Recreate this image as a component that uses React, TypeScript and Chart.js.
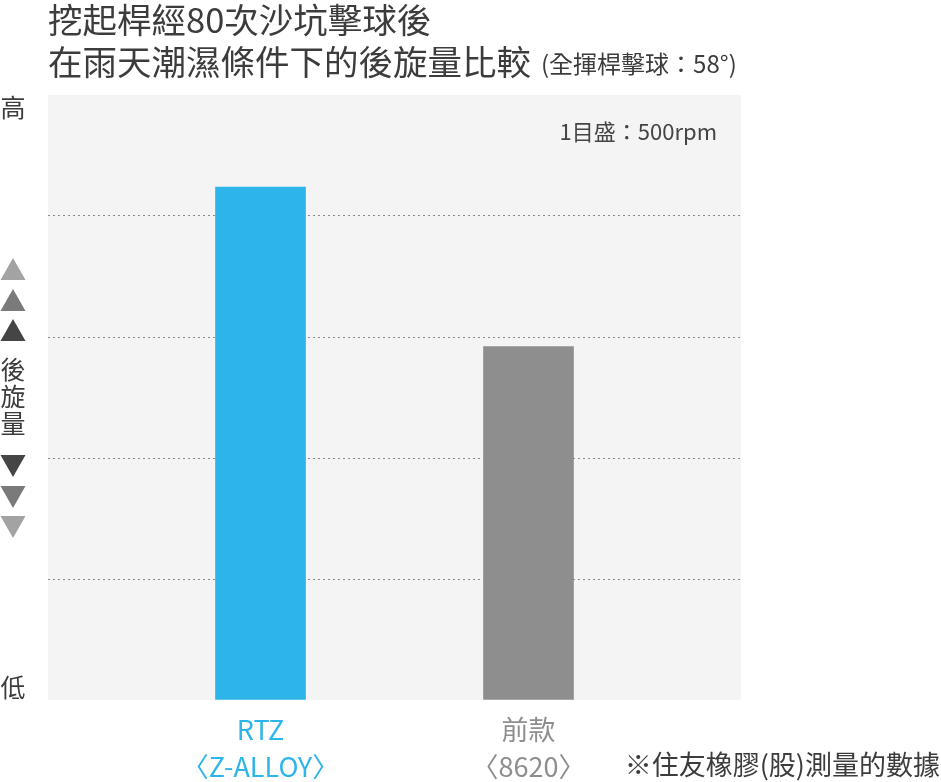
import React, { useEffect, useRef } from "react";
import { Chart, registerables } from "chart.js";

Chart.register(...registerables);

const titleLine1 = "挖起桿經80次沙坑擊球後";
const titleLine2 = "在雨天潮濕條件下的後旋量比較";
const titleNote = "(全揮桿擊球：58°)";
const scaleNote = "1目盛：500rpm";
const sourceNote = "※住友橡膠(股)測量的數據";
const axisHigh = "高";
const axisLow = "低";
const axisName = ["後", "旋", "量"];

const categoryLines = [["RTZ", "〈Z-ALLOY〉"], ["前款", "〈8620〉"]];
const categoryPositions = [1, 2];
const spinValues = [2120, 1460];
const barColors = ["#2db5ea", "#8e8e8e"];
const yMin = 0;
const yMax = 2500;
const yStep = 500;

const FONT = '"Noto Sans CJK TC", "Noto Sans", sans-serif';

const decorPlugin = {
  id: "decor",
  beforeDraw(chart: any) {
    const { ctx, chartArea } = chart;
    ctx.save();
    ctx.fillStyle = "#f4f4f4";
    ctx.fillRect(chartArea.left, chartArea.top, chartArea.right - chartArea.left, chartArea.bottom - chartArea.top);
    ctx.restore();
  },
  afterDraw(chart: any) {
    const { ctx, chartArea, scales } = chart;
    ctx.save();
    ctx.textBaseline = "alphabetic";
    // title
    ctx.fillStyle = "#3c3c3c";
    ctx.textAlign = "left";
    ctx.font = `400 34.5px ${FONT}`;
    ctx.fillText(titleLine1, 48, 33);
    ctx.fillText(titleLine2, 48, 75);
    const w2 = ctx.measureText(titleLine2).width;
    ctx.font = `400 24px ${FONT}`;
    ctx.fillText(titleNote, 48 + w2 + 10, 73);

    // scale note
    ctx.fillStyle = "#444";
    ctx.font = `400 22px ${FONT}`;
    ctx.textAlign = "right";
    ctx.fillText(scaleNote, chartArea.right - 24, 140);

    // left axis decorations
    ctx.textAlign = "center";
    ctx.font = `400 25px ${FONT}`;
    ctx.fillStyle = "#3c3c3c";
    ctx.fillText(axisHigh, 13, 117);
    ctx.fillText(axisLow, 13, 697);
    axisName.forEach((c, i) => ctx.fillText(c, 13, 379 + i * 27));

    const tri = (top: number, up: boolean, color: string) => {
      ctx.fillStyle = color;
      ctx.beginPath();
      if (up) {
        ctx.moveTo(13, top);
        ctx.lineTo(25.5, top + 22);
        ctx.lineTo(0.5, top + 22);
      } else {
        ctx.moveTo(0.5, top);
        ctx.lineTo(25.5, top);
        ctx.lineTo(13, top + 22);
      }
      ctx.closePath();
      ctx.fill();
    };
    tri(258, true, "#a3a3a3");
    tri(289, true, "#7a7a7a");
    tri(319, true, "#454545");
    tri(455, false, "#454545");
    tri(486, false, "#7a7a7a");
    tri(516, false, "#a3a3a3");

    // category labels
    ctx.font = `400 27px ${FONT}`;
    categoryLines.forEach((lines, i) => {
      const x = scales.x.getPixelForValue(categoryPositions[i]);
      ctx.fillStyle = i === 0 ? "#2db5ea" : "#8e8e8e";
      lines.forEach((t, j) => ctx.fillText(t, x, 740 + j * 37));
    });

    // source note
    ctx.fillStyle = "#3c3c3c";
    ctx.textAlign = "right";
    ctx.font = `400 27px ${FONT}`;
    ctx.fillText(sourceNote, 940, 775);
    ctx.restore();
  },
};

export default function App() {
  const ref = useRef<HTMLCanvasElement>(null);
  useEffect(() => {
    const chart = new Chart(ref.current!, {
      type: "bar",
      data: {
        datasets: [
          {
            data: categoryPositions.map((x, i) => ({ x, y: spinValues[i] })),
            backgroundColor: barColors,
            borderWidth: 0,
            barThickness: 90,
          },
        ],
      },
      options: {
        animation: false,
        responsive: false,
        maintainAspectRatio: false,
        layout: { padding: { left: 48, top: 95, right: 200, bottom: 82 } },
        plugins: { legend: { display: false }, tooltip: { enabled: false }, title: { display: false } },
        scales: {
          x: {
            type: "linear",
            offset: false,
            min: 0.207,
            max: 2.793,
            ticks: { display: false },
            grid: { display: false, drawTicks: false, offset: false },
            border: { display: false },
            afterFit: (s: any) => { s.height = 0; },
          },
          y: {
            min: yMin,
            max: yMax,
            ticks: { display: false, stepSize: yStep },
            grid: {
              drawTicks: false,
              color: (c: any) => (c.tick && (c.tick.value === yMin || c.tick.value === yMax) ? "rgba(0,0,0,0)" : "#8a8a8a"),
              lineWidth: 1,
            },
            border: { display: false, dash: [2, 3] },
            afterFit: (s: any) => { s.width = 0; },
          },
        },
      } as any,
      plugins: [decorPlugin],
    });
    return () => chart.destroy();
  }, []);
  return (
    <div style={{ position: "absolute", left: 0, top: 0, width: 941, height: 782 }}>
      <canvas ref={ref} width={941} height={782} style={{ width: 941, height: 782, display: "block" }} />
    </div>
  );
}
